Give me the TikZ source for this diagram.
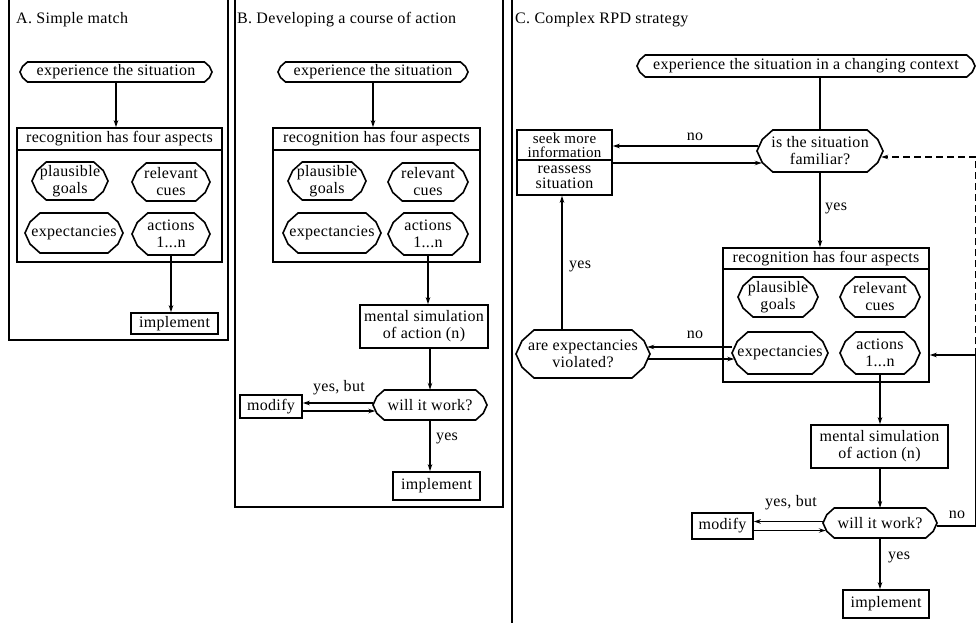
\documentclass[tikz,border=0pt]{standalone}
\usepackage{fontspec}
\setmainfont{Liberation Serif}[LetterSpace=2]
\usetikzlibrary{arrows.meta,calc}
\tikzset{
  txt/.style={font=\fontsize{16}{17}\selectfont, align=center, inner sep=0pt},
  box/.style={txt, draw, line width=1.6pt},
  shp/.style={line width=1.6pt, line join=miter},
  arr/.style={-{Stealth[length=7pt,width=4.5pt]}, line width=1.3pt},
  plain/.style={line width=1.3pt},
  dsh/.style={line width=1.1pt, dash pattern=on 7pt off 4pt},
  frame/.style={line width=1.6pt}
}
\newcommand\octnode[6]{%
  \node[txt, minimum width=2*#4pt, minimum height=2*#5pt] (#1) at (#2,#3) {#6};
  \draw[shp] (#2-#4+0.75*#5,#3-#5) -- (#2+#4-0.75*#5,#3-#5) -- (#2+#4-0.25*#5,#3-0.55*#5) -- (#2+#4,#3) -- (#2+#4-0.25*#5,#3+0.55*#5) -- (#2+#4-0.75*#5,#3+#5) -- (#2-#4+0.75*#5,#3+#5) -- (#2-#4+0.25*#5,#3+0.55*#5) -- (#2-#4,#3) -- (#2-#4+0.25*#5,#3-0.55*#5) -- cycle;
}
\newcommand\rbox[6]{%
  \node[box, minimum width=#4pt, minimum height=#5pt] (#1) at (#2,#3) {#6};
}
\begin{document}
\begin{tikzpicture}[x=1pt,y=-1pt]
\useasboundingbox (0,0) rectangle (977,623);
% frames
\draw[frame] (9,0) -- (9,340) -- (228,340) -- (228,0);
\draw[frame] (235,0) -- (235,507) -- (503,507) -- (503,0);
\draw[frame] (512,0) -- (512,623);
% titles
\node[txt, anchor=west] (tA) at (16,20) {A. Simple match};
\node[txt, anchor=west] (tB) at (237,20) {B. Developing a course of action};
\node[txt, anchor=west] (tC) at (515,20) {C. Complex RPD strategy};

% ---------- Panel A
\octnode{expA}{116}{72}{96}{10}{experience the situation}
\rbox{recAh}{119.5}{139}{205}{22}{recognition has four aspects}
\rbox{recA}{119.5}{206}{205}{112}{}
\octnode{pgA}{70}{181}{38}{19}{plausible\\goals}
\octnode{rcA}{171}{182}{39}{19}{relevant\\cues}
\octnode{exA}{74}{233}{49}{20}{expectancies}
\octnode{acA}{171}{234}{39}{21}{actions\\1...n}
\rbox{implA}{174.5}{323.5}{87}{21}{implement}
\draw[arr] (expA.south) -- (expA.south |- recAh.north);
\draw[arr] (acA.south) -- (acA.south |- implA.north);

% ---------- Panel B
\octnode{expB}{373}{72}{95}{10}{experience the situation}
\rbox{recBh}{376.5}{139}{207}{22}{recognition has four aspects}
\rbox{recB}{376.5}{206}{207}{112}{}
\octnode{pgB}{327}{181}{39}{19}{plausible\\goals}
\octnode{rcB}{428}{182}{40}{19}{relevant\\cues}
\octnode{exB}{332}{233}{49}{20}{expectancies}
\octnode{acB}{428}{234}{40}{21}{actions\\1...n}
\rbox{mentB}{424}{326.5}{128}{43}{mental simulation\\of action (n)}
\octnode{willB}{430}{405}{57}{15}{will it work?}
\rbox{modB}{271}{406.5}{62}{23}{modify}
\rbox{implB}{436.5}{486}{87}{28}{implement}
\draw[arr] (expB.south) -- (expB.south |- recBh.north);
\draw[arr] (acB.south) -- (acB.south |- mentB.north);
\draw[arr] (willB.north |- mentB.south) -- (willB.north);
\draw[arr] ($(willB.west)+(0,-2)$) -- ($(modB.east |- willB.west)+(0,-2)$);
\draw[arr] ($(modB.east |- willB.west)+(0,6)$) -- ($(willB.west)+(2.5,6)$);
\draw[arr] (willB.south) -- (willB.south |- implB.north);
\node[txt] (lybB) at (339,388) {yes, but};
\node[txt] (lyB) at (447,438) {yes};

% ---------- Panel C
\octnode{expC}{806}{66}{169}{11}{experience the situation in a changing context}
\octnode{famC}{820}{151}{63}{21}{is the situation\\familiar?}
\node[box, minimum width=95pt, minimum height=30pt, font=\fontsize{15}{14}\selectfont] (seekC) at (564.5,145) {seek more\\information};
\node[box, minimum width=95pt, minimum height=35pt, font=\fontsize{16}{15}\selectfont] (reasC) at (564.5,177.5) {reassess\\situation};
\rbox{recCh}{826}{258.5}{206}{21}{recognition has four aspects}
\rbox{recC}{826}{325.5}{206}{113}{}
\octnode{pgC}{778}{297}{40}{20}{plausible\\goals}
\octnode{rcC}{880}{297}{40}{20}{relevant\\cues}
\octnode{exC}{780}{353}{48}{21}{expectancies}
\octnode{acC}{880}{353}{40}{21}{actions\\1...n}
\octnode{areC}{583}{354}{67}{24}{are expectancies\\violated?}
\rbox{mentC}{879.5}{446.5}{137}{43}{mental simulation\\of action (n)}
\octnode{willC}{880}{523}{57}{15}{will it work?}
\rbox{modC}{722.5}{526}{61}{26}{modify}
\rbox{implC}{886}{604}{86}{28}{implement}
\coordinate (dTop) at (975.5,157);
\coordinate (rCor) at (975.5,355);
\coordinate (yB) at ($(areC.north)+(-21,0)$);

\draw[plain] (famC.north |- expC.south) -- (famC.north);
\draw[arr] ($(famC.west)+(1,-5)$) -- ($(seekC.east |- famC.west)+(0,-5)$);
\draw[arr] ($(reasC.east |- famC.west)+(0,12)$) -- ($(famC.west)+(5,12)$);
\draw[arr] (famC.south) -- (famC.south |- recCh.north);
\draw[dsh] (rCor) -- (dTop);
\draw[dsh, -{Stealth[length=7pt,width=4.5pt]}] (dTop) -- ($(famC.east)+(-2,6)$);
\draw[arr] ($(exC.west)+(0,-6)$) -- ($(areC.east |- exC.west)+(-3,-6)$);
\draw[arr] ($(areC.east |- exC.west)+(-3,6)$) -- ($(exC.west)+(2.5,6)$);
\draw[arr] (yB) -- (yB |- reasC.south);
\draw[arr] (acC.south) -- (acC.south |- mentC.north);
\draw[arr] (willC.north |- mentC.south) -- (willC.north);
\draw[arr] ($(willC.west)+(0,-1.5)$) -- ($(modC.east |- willC.west)+(0,-1.5)$);
\draw[arr] ($(modC.east |- willC.west)+(0,7.5)$) -- ($(willC.west)+(3,7.5)$);
\draw[arr] (willC.south) -- (willC.south |- implC.north);
\draw[arr] ($(willC.east)+(0,3)$) -| (rCor) -- (rCor -| recC.east);

\node[txt] (lnC1) at (695,137) {no};
\node[txt] (lyC1) at (836,208) {yes};
\node[txt] (lnC2) at (695,335) {no};
\node[txt] (lyC2) at (580,266) {yes};
\node[txt] (lybC) at (791,503) {yes, but};
\node[txt] (lnC3) at (957,515) {no};
\node[txt] (lyC3) at (899,557) {yes};
\end{tikzpicture}
\end{document}
